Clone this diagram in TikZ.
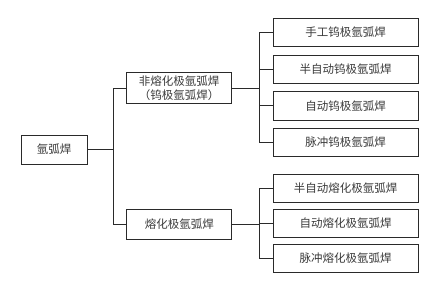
\documentclass[tikz,border=0pt]{standalone}
\usepackage{fontspec}
\setmainfont{Noto Sans CJK SC}
\usepackage{tikz}
\usetikzlibrary{positioning,calc}
\definecolor{ink}{HTML}{2A2A2A}
\definecolor{txt}{HTML}{3A3A3A}
\tikzset{
  rootbox/.style={draw=ink,line width=0.9pt,minimum width=66pt,minimum height=29pt,
                  inner sep=1pt,text=txt,font=\fontsize{11.5}{13.5}\selectfont},
  midbox/.style={draw=ink,line width=0.9pt,minimum width=105pt,minimum height=30.5pt,
                 inner sep=1pt,align=center,text=txt,font=\fontsize{11.5}{13.5}\selectfont},
  leafbox/.style={draw=ink,line width=0.9pt,minimum width=145pt,minimum height=28.5pt,
                  inner sep=1pt,text=txt,font=\fontsize{11.5}{13.5}\selectfont},
  link/.style={draw=ink,line width=0.9pt}
}
\begin{document}
\begin{tikzpicture}[x=1pt,y=-1pt]
    \path[use as bounding box,fill=white] (0,0) rectangle (428,282);

    \node[rootbox] (root) at (54,149.5) {氩弧焊};
    \node[midbox] (fei) at (179,88) {非熔化极氩弧焊\\（钨极氩弧焊）};
    \node[midbox] (rong) at (179.3,224.3) {熔化极氩弧焊};

    \node[leafbox] (t1) at (345.7,32.5) {手工钨极氩弧焊};
    \node[leafbox] (t2) at (345.7,69.2) {半自动钨极氩弧焊};
    \node[leafbox] (t3) at (345.7,105.8) {自动钨极氩弧焊};
    \node[leafbox] (t4) at (345.7,142.2) {脉冲钨极氩弧焊};

    \node[leafbox] (b1) at (345.7,188.2) {半自动熔化极氩弧焊};
    \node[leafbox] (b2) at (345.7,223.5) {自动熔化极氩弧焊};
    \node[leafbox] (b3) at (345.7,258.5) {脉冲熔化极氩弧焊};

    % bus points
    \coordinate (busL) at (113.3,149.5);
    \coordinate (busT) at (259.7,88);
    \coordinate (busB) at (259.7,224.3);

    \draw[link] (root.east) -- (busL);
    \draw[link] (fei.west) -| (busL) |- (rong.west);

    \draw[link] (fei.east) -- (busT);
    \foreach \n in {t1,t2,t3,t4}
      \draw[link] (\n.west) -| (busT);

    \draw[link] (rong.east) -- (busB);
    \foreach \n in {b1,b2,b3}
      \draw[link] (\n.west) -| (busB);
  \end{tikzpicture}
\end{document}
